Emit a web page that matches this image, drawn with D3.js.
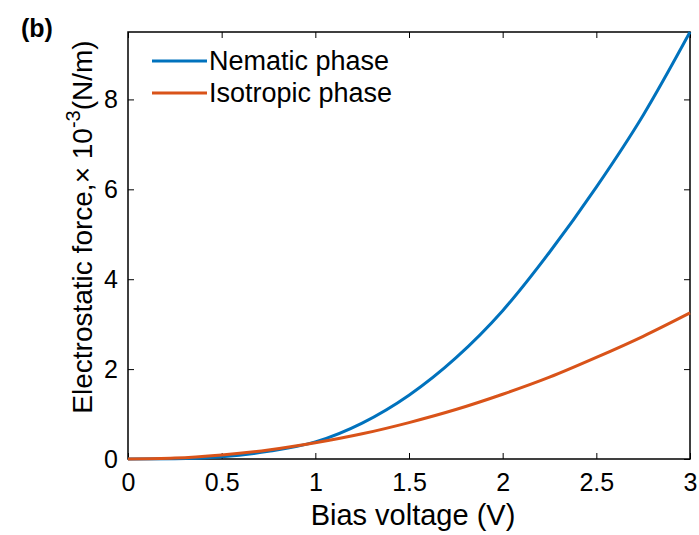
<!DOCTYPE html>
<html>
<head>
<meta charset="utf-8">
<script src="https://cdn.jsdelivr.net/npm/d3@7"></script>
<style>
  body { margin: 0; background: #fff; }
  text { font-family: "Liberation Sans", Arial, sans-serif; }
</style>
</head>
<body>
<svg id="chart" width="699" height="535"></svg>
<script>
// Values
const voltage = [0, 0.25, 0.5, 0.75, 1.0, 1.25, 1.5, 1.75, 2.0, 2.25, 2.5, 2.75, 3.0];
const nematic = [0, 0.004, 0.05, 0.17, 0.38, 0.8, 1.42, 2.25, 3.3, 4.6, 6.05, 7.65, 9.5];
const isotropic = [0, 0.02, 0.09, 0.2, 0.36, 0.56, 0.81, 1.1, 1.44, 1.82, 2.26, 2.73, 3.25];
const xTicks = [0, 0.5, 1, 1.5, 2, 2.5, 3];
const yTicks = [0, 2, 4, 6, 8];
const seriesNames = ["Nematic phase", "Isotropic phase"];
const seriesColors = ["#0072BD", "#D95319"];

const margin = {top: 32, right: 9, bottom: 76, left: 128};
const width = 699 - margin.left - margin.right,
      height = 535 - margin.top - margin.bottom;

const svg = d3.select("#chart");
const g = svg.append("g")
  .attr("transform", `translate(${margin.left}, ${margin.top})`);

const x = d3.scaleLinear().domain([0, 3]).range([0, width]);
const y = d3.scaleLinear().domain([0, 9.5]).range([height, 0]);

// Axes with inward ticks (box style)
const styleAxis = (sel) => {
  sel.select(".domain").remove();
  sel.selectAll(".tick line").attr("stroke", "#000").attr("stroke-width", 1);
  sel.selectAll("text").attr("fill", "#000").style("font-size", "25px");
};

g.append("g")
  .attr("transform", `translate(0, ${height})`)
  .call(d3.axisBottom(x).tickValues(xTicks).tickSizeInner(-6).tickPadding(14).tickFormat(d3.format("")))
  .call(styleAxis);

g.append("g")
  .call(d3.axisTop(x).tickValues(xTicks).tickSizeInner(-6).tickFormat(""))
  .call(styleAxis);

g.append("g")
  .call(d3.axisLeft(y).tickValues(yTicks).tickSizeInner(-6).tickPadding(10))
  .call(styleAxis);

g.append("g")
  .attr("transform", `translate(${width}, 0)`)
  .call(d3.axisRight(y).tickValues(yTicks).tickSizeInner(-6).tickFormat(""))
  .call(styleAxis);

// Frame
g.append("rect")
  .attr("width", width)
  .attr("height", height)
  .attr("fill", "none")
  .attr("stroke", "#000")
  .attr("stroke-width", 1.5);

// Lines
const line = d3.line()
  .x((d, i) => x(voltage[i]))
  .y((d) => y(d))
  .curve(d3.curveMonotoneX);

[nematic, isotropic].forEach((vals, i) => {
  g.append("path")
    .datum(vals)
    .attr("fill", "none")
    .attr("stroke", seriesColors[i])
    .attr("stroke-width", 3)
    .attr("d", line);
});

// Legend
const legend = g.append("g").attr("transform", "translate(24, 29)");
seriesNames.forEach((name, i) => {
  const row = legend.append("g").attr("transform", `translate(0, ${i * 32})`);
  row.append("line")
    .attr("x1", 0).attr("x2", 55)
    .attr("stroke", seriesColors[i])
    .attr("stroke-width", 3);
  row.append("text")
    .attr("x", 57)
    .attr("dy", "0.35em")
    .style("font-size", "27px")
    .text(name);
});

// Axis titles
svg.append("text")
  .attr("x", 413)
  .attr("y", 525)
  .attr("text-anchor", "middle")
  .style("font-size", "29px")
  .text("Bias voltage (V)");

const yTitle = svg.append("text")
  .attr("transform", `translate(92, 227) rotate(-90)`)
  .attr("text-anchor", "middle")
  .style("font-size", "28px");
yTitle.append("tspan").text("Electrostatic force,\u00d7 10");
yTitle.append("tspan").attr("dy", -12).style("font-size", "20px").text("-3");
yTitle.append("tspan").attr("dy", 12).text("(N/m)");

// Panel label
svg.append("text")
  .attr("x", 21)
  .attr("y", 37)
  .style("font-size", "25px")
  .style("font-weight", "bold")
  .text("(b)");
</script>
</body>
</html>
